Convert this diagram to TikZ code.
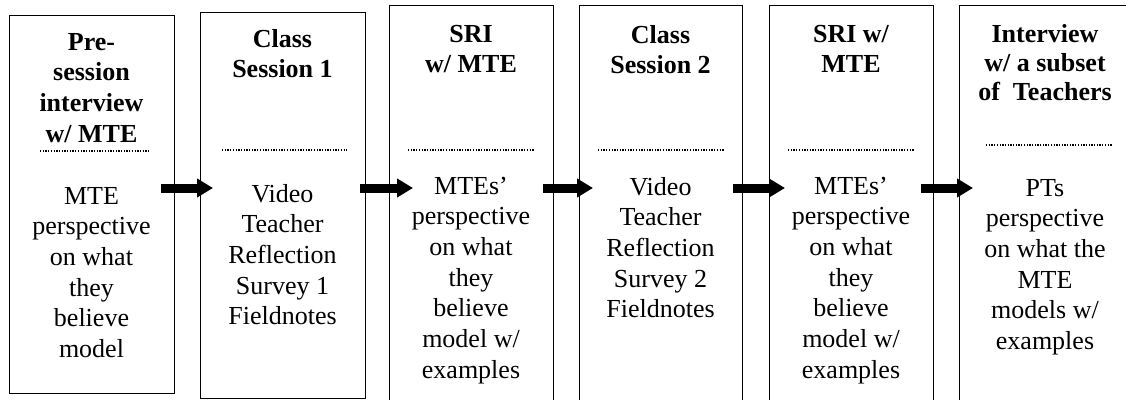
\documentclass[tikz,border=0pt]{standalone}
\usepackage{fontspec}
\setmainfont{Liberation Serif}
\usetikzlibrary{arrows.meta}
\begin{document}
\begin{tikzpicture}[x=1pt,y=-1pt,
  box/.style={draw, line width=1.2pt, anchor=north west, inner sep=0pt},
  ttl/.style={font=\fontsize{26}{30.7}\selectfont\bfseries, align=center, anchor=base, inner sep=0pt},
  bdy/.style={font=\fontsize{26}{30.7}\selectfont, align=center, anchor=base, inner sep=0pt},
  sep/.style={line width=1.3pt, dash pattern=on 1.3pt off 1.4pt},
  flow/.style={line width=9pt, -{Triangle[length=16pt,width=18pt]}}]
\useasboundingbox (0,0) rectangle (1126,399);
\clip (0,0) rectangle (1126,399);
\fill[white] (0,0) rectangle (1126,399);
% boxes
\node[box, minimum width=165pt, minimum height=378pt] (b1) at (9,15) {};
\node[box, minimum width=165pt, minimum height=386pt] (b2) at (200,12) {};
\node[box, minimum width=164pt, minimum height=420pt] (b3) at (389,5) {};
\node[box, minimum width=163pt, minimum height=420pt] (b4) at (579,5) {};
\node[box, minimum width=164pt, minimum height=420pt] (b5) at (769,5) {};
\node[box, minimum width=172pt, minimum height=420pt] (b6) at (959,5) {};
% titles (anchor = baseline of last line)
\node[ttl] (t1) at (91.5,142.1) {Pre-\\session\\interview\\w/ MTE};
\node[ttl] (t2) at (282.5,77.7) {Class\\Session 1};
\node[ttl] (t3) at (471,72.7) {SRI\\w/ MTE};
\node[ttl] (t4) at (660.5,73.7) {Class\\Session 2};
\node[ttl] (t5) at (851,72.7) {SRI w/\\MTE};
\node[ttl, font=\fontsize{26}{29}\selectfont\bfseries] (t6) at (1045,100) {Interview\\w/ a subset\\of\ \ Teachers};
% separators
\draw[sep] (40,151) -- (149,151);
\draw[sep] (222,150) -- (347,150);
\draw[sep] (408,150) -- (534,150);
\draw[sep] (598,150) -- (724,150);
\draw[sep] (788,150) -- (914,150);
\draw[sep] (986,145) -- (1112,145);
% bodies (anchor = baseline of last line)
\node[bdy] (d1) at (91.5,357.5) {MTE\\perspective\\on what\\they\\believe\\model};
\node[bdy] (d2) at (282.5,324.8) {Video\\Teacher\\Reflection\\Survey 1\\Fieldnotes};
\node[bdy] (d3) at (471,378.2) {MTEs’\\perspective\\on what\\they\\believe\\model w/\\examples};
\node[bdy] (d4) at (660.5,317.8) {Video\\Teacher\\Reflection\\Survey 2\\Fieldnotes};
\node[bdy] (d5) at (851,378.2) {MTEs’\\perspective\\on what\\they\\believe\\model w/\\examples};
\node[bdy] (d6) at (1045,349.5) {PTs\\perspective\\on what the\\MTE\\models w/\\examples};
% arrows
\coordinate (ay) at (0,188);
\draw[flow] ([xshift=-14pt]b1.east |- ay) -- ([xshift=13pt]b2.west |- ay);
\draw[flow] ([xshift=-6pt]b2.east |- ay) -- ([xshift=24pt]b3.west |- ay);
\draw[flow] ([xshift=-11pt]b3.east |- ay) -- ([xshift=14pt]b4.west |- ay);
\draw[flow] ([xshift=-10pt]b4.east |- ay) -- ([xshift=16pt]b5.west |- ay);
\draw[flow] ([xshift=-13pt]b5.east |- ay) -- ([xshift=14pt]b6.west |- ay);
\end{tikzpicture}
\end{document}
